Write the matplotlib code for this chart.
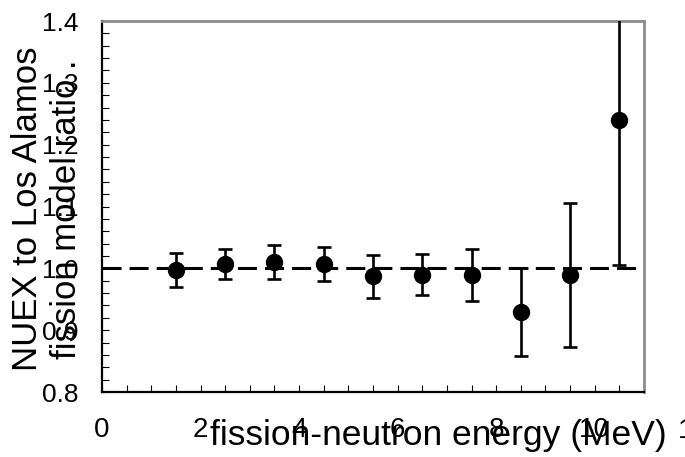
import matplotlib
matplotlib.use("Agg")
import matplotlib.pyplot as plt
from matplotlib.ticker import MultipleLocator

# 比の値 (NUEX / Los Alamos)
energy = [1.5, 2.5, 3.5, 4.5, 5.5, 6.5, 7.5, 8.5, 9.5, 10.5]
ratio = [0.997, 1.007, 1.010, 1.007, 0.987, 0.990, 0.989, 0.929, 0.989, 1.240]
err = [0.027, 0.025, 0.027, 0.028, 0.035, 0.033, 0.042, 0.071, 0.116, 0.235]

x_ticks = [0, 2, 4, 6, 8, 10]
y_ticks = [0.8, 0.9, 1.0, 1.1, 1.2, 1.3, 1.4]

plt.rcParams["font.family"] = ["Liberation Sans", "DejaVu Sans"]
plt.rcParams["lines.scale_dashes"] = False

fig = plt.figure(figsize=(6.85, 4.57), dpi=100)
ax = fig.add_axes([102 / 685, 1 - 392 / 457, 542 / 685, 371 / 457])

# 基準線 ratio = 1
ax.axhline(1.0, color="black", lw=2.2, dashes=(13.7, 5.8), zorder=1)

ax.errorbar(energy, ratio, yerr=err, fmt="o", color="black", ms=11.5,
            elinewidth=1.9, capsize=5, capthick=1.9, zorder=3)

ax.set_xlim(0, 11)
ax.set_ylim(0.8, 1.4)

ax.set_xticks(x_ticks)
ax.xaxis.set_minor_locator(MultipleLocator(0.5))
ax.set_yticks(y_ticks)
ax.set_yticklabels(["%.1f" % v for v in y_ticks])
ax.yaxis.set_minor_locator(MultipleLocator(0.02))

ax.tick_params(axis="both", which="both", direction="in", length=5, width=0.8)
ax.tick_params(axis="x", which="major", labelsize=20, pad=18)
ax.tick_params(axis="y", which="major", labelsize=19, pad=17)

# 軸の外にはみ出したラベル
ax.text(12, -0.07, "12", transform=ax.get_xaxis_transform(), fontsize=20,
        ha="center", va="top", clip_on=False)

for s in ["left", "bottom"]:
    ax.spines[s].set_color("black")
    ax.spines[s].set_linewidth(1.6)
for s in ["top", "right"]:
    ax.spines[s].set_color("#8c8c8c")
    ax.spines[s].set_linewidth(2.0)

fig.text(438 / 685, 1 - 445 / 457, "fission-neutron energy (MeV)",
         fontsize=25.5, ha="center", va="baseline")
fig.text(47 / 685, 1 - 209 / 457, "NUEX to Los Alamos\nfission model ratio .",
         fontsize=25, rotation=90, ha="center", va="center",
         multialignment="center", linespacing=1.2)

fig.savefig("out.png", dpi=100)
